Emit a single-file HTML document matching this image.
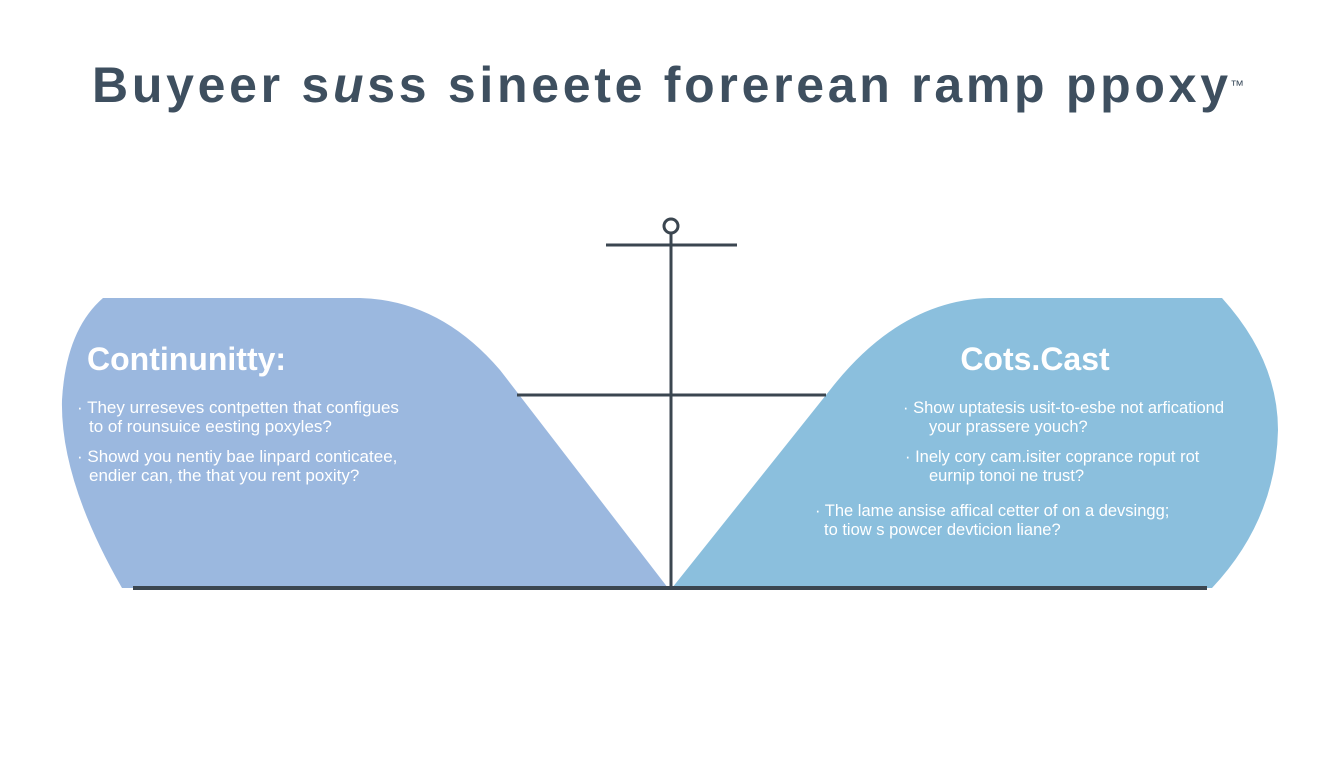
<!DOCTYPE html>
<html><head><meta charset="utf-8"><style>
body{margin:0;background:#fff;}
svg{display:block;font-family:"Liberation Sans",sans-serif;}
</style></head><body>
<svg width="1344" height="768" viewBox="0 0 1344 768">
<text x="92" y="102" font-size="50" font-weight="bold" fill="#3e4f5f" textLength="1136" lengthAdjust="spacing">Buyeer s<tspan font-style="italic">u</tspan>ss sineete forerean ramp ppoxy</text>
<text x="1230" y="90" font-size="14" fill="#3e4f5f">™</text>
<path d="M103,298 L360,298 Q440,300 500,370 L668,588 L122,588 Q60,480 62,400 Q66,330 103,298 Z" fill="#9bb8df"/>
<path d="M672,588 L830,390 Q900,300 990,298 L1222,298 Q1278,360 1278,430 Q1276,520 1212,588 Z" fill="#8bbfdd"/>
<g stroke="#3b4650" fill="none">
<line x1="671" y1="233" x2="671" y2="588" stroke-width="3"/>
<circle cx="671" cy="226" r="7" stroke-width="3" fill="#fff"/>
<line x1="606" y1="245" x2="737" y2="245" stroke-width="3"/>
<line x1="517" y1="395" x2="826" y2="395" stroke-width="3"/>
<line x1="133" y1="588" x2="1207" y2="588" stroke-width="4"/>
</g>
<g fill="#fff">
<text x="87" y="370" font-size="32" font-weight="bold">Continunitty:</text>
<g font-size="17">
<text x="77" y="413">· They urreseves contpetten that configues</text>
<text x="89" y="432">to of rounsuice eesting poxyles?</text>
<text x="77" y="462">· Showd you nentiy bae linpard conticatee,</text>
<text x="89" y="481">endier can, the that you rent poxity?</text>
</g>
<text x="1035" y="370" font-size="32" font-weight="bold" text-anchor="middle">Cots.Cast</text>
<g font-size="16.5">
<text x="903" y="413">· Show uptatesis usit-to-esbe not arficationd</text>
<text x="929" y="432">your prassere youch?</text>
<text x="905" y="462">· Inely cory cam.isiter coprance roput rot</text>
<text x="929" y="481">eurnip tonoi ne trust?</text>
<text x="815" y="516">· The lame ansise affical cetter of on a devsingg;</text>
<text x="824" y="535">to tiow s powcer devticion liane?</text>
</g>
</g>
</svg>
</body></html>
